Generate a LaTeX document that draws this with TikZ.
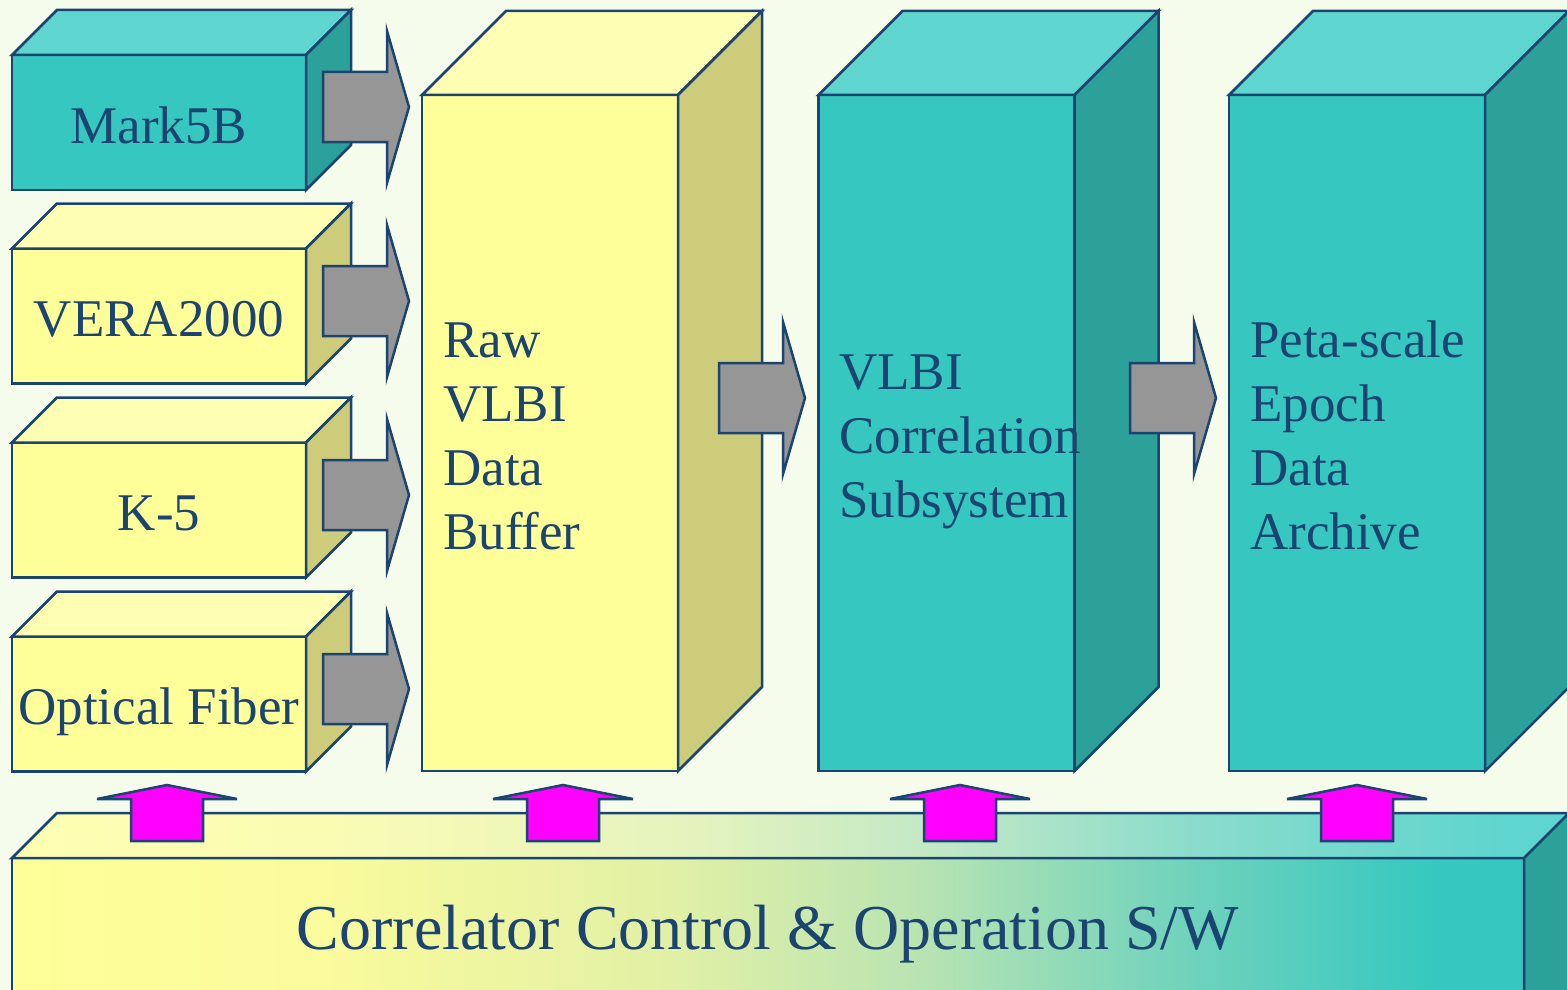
\documentclass[tikz,border=0pt]{standalone}
\usepackage{fontspec}
\setmainfont{Liberation Serif}

% palette
\definecolor{lineblue}{RGB}{27,68,112}
\definecolor{yfront}{RGB}{255,255,153}
\definecolor{ytop}{RGB}{255,255,180}
\definecolor{yside}{RGB}{204,204,122}
\definecolor{tfront}{RGB}{54,200,192}
\definecolor{ttop}{RGB}{94,213,206}
\definecolor{tside}{RGB}{43,161,154}
\definecolor{flowgray}{RGB}{150,150,150}
\definecolor{ctrlpink}{RGB}{255,0,255}
\definecolor{bgL}{RGB}{245,252,236}
\definecolor{bgM}{RGB}{253,255,248}
\definecolor{bgR}{RGB}{246,252,236}
% control bar gradient stops
\definecolor{cf1}{RGB}{250,251,156}
\definecolor{cf2}{RGB}{225,240,166}
\definecolor{cf3}{RGB}{185,228,178}
\definecolor{cf4}{RGB}{118,212,188}
\definecolor{ct0}{RGB}{255,255,178}
\definecolor{ct1}{RGB}{250,252,180}
\definecolor{ct2}{RGB}{228,243,190}
\definecolor{ct3}{RGB}{192,232,198}
\definecolor{ct4}{RGB}{138,220,204}

\pgfdeclarehorizontalshading{ctrlfront}{100bp}{color(0bp)=(yfront); color(25bp)=(yfront); color(35bp)=(cf1); color(47bp)=(cf2); color(55bp)=(cf3); color(63bp)=(cf4); color(72bp)=(tfront); color(75bp)=(tfront); color(100bp)=(tfront)}
\pgfdeclarehorizontalshading{ctrltop}{100bp}{color(0bp)=(ct0); color(25bp)=(ct0); color(35bp)=(ct1); color(47bp)=(ct2); color(55bp)=(ct3); color(63bp)=(ct4); color(73bp)=(ttop); color(75bp)=(ttop); color(100bp)=(ttop)}

% top and right faces of a box whose front face is node #1
\newcommand\drawfaces[4]{%
  \filldraw[outline, fill=#3] (#1.north west) -- ++(#2,-#2) -- ([shift={(#2,-#2)}]#1.north east) -- (#1.north east) -- cycle;
  \filldraw[outline, fill=#4] (#1.north east) -- ++(#2,-#2) -- ([shift={(#2,-#2)}]#1.south east) -- (#1.south east) -- cycle;
}

\tikzset{
  outline/.style={draw=lineblue, line width=2.5pt},
  frontbox/.style={outline, rectangle, inner sep=0pt, outer sep=0pt},
  smallbox/.style={frontbox, minimum width=294pt, minimum height=135pt,
    text height=41pt, text depth=0pt, text=lineblue, font=\fontsize{53}{64}\selectfont},
  bigbox/.style={frontbox, minimum width=256pt, minimum height=676pt},
  coltext/.style={anchor=base west, inner sep=0pt, text=lineblue, font=\fontsize{53}{64}\selectfont},
  rarrow/.pic={\filldraw[outline, fill=flowgray] (0,-35) -- (64,-35) -- (64,-76) -- (86,0) -- (64,76) -- (64,35) -- (0,35) -- cycle;},
  uarrow/.pic={\filldraw[outline, fill=ctrlpink] (0,0) -- (70,14) -- (36,14) -- (36,56) -- (-36,56) -- (-36,14) -- (-70,14) -- cycle;}
}

\begin{document}
\begin{tikzpicture}[x=1pt,y=-1pt]
\fill[left color=bgL, middle color=bgM, right color=bgR] (0,0) rectangle (1567,990);
\useasboundingbox (0,0) rectangle (1567,990);
\clip (0,0) rectangle (1567,990);

% recorder inputs
\node[smallbox, fill=tfront] (mark)  at (159,122.5) {Mark5B};
\drawfaces{mark}{45}{ttop}{tside}
\node[smallbox, fill=yfront] (vera)  at (159,316) {VERA2000};
\drawfaces{vera}{45}{ytop}{yside}
\node[smallbox, fill=yfront] (k5)    at (159,510) {K-5};
\drawfaces{k5}{45}{ytop}{yside}
\node[smallbox, fill=yfront] (fiber) at (159,704) {Optical Fiber};
\drawfaces{fiber}{45}{ytop}{yside}

% main columns
\node[bigbox, fill=yfront] (raw)  at (550,433) {};
\drawfaces{raw}{84}{ytop}{yside}
\node[bigbox, fill=tfront] (corr) at (946.5,433) {};
\drawfaces{corr}{84}{ttop}{tside}
\node[bigbox, fill=tfront] (arch) at (1357,433) {};
\drawfaces{arch}{84}{ttop}{tside}

\foreach \t [count=\i from 0] in {Raw,VLBI,Data,Buffer}
  \node[coltext] (raw-\i) at (443,357+64*\i) {\t};
\foreach \t [count=\i from 0] in {VLBI,Correlation,Subsystem}
  \node[coltext] (corr-\i) at (839,389+64*\i) {\t};
\foreach \t [count=\i from 0] in {Peta-scale,Epoch,Data,Archive}
  \node[coltext] (arch-\i) at (1250,357+64*\i) {\t};

% data flow
\pic at (323,107) {rarrow};
\pic at (323,301) {rarrow};
\pic at (323,495) {rarrow};
\pic at (323,689) {rarrow};
\pic at (719,398) {rarrow};
\pic at (1130,398) {rarrow};

% control software bar
\node[frontbox, shade, shading=ctrlfront, minimum width=1512pt, minimum height=182pt] (ctrl) at (768,949) {};
\path[outline, shade, shading=ctrltop] (ctrl.north west) -- ++(45,-45) -- ([shift={(45,-45)}]ctrl.north east) -- (ctrl.north east) -- cycle;
\filldraw[outline, fill=tside] (ctrl.north east) -- ++(45,-45) -- ([shift={(45,-45)}]ctrl.south east) -- (ctrl.south east) -- cycle;
\node[anchor=base, inner sep=0pt, text=lineblue, font=\fontsize{64}{76}\selectfont] (ctrl-text) at (768,949) {Correlator Control \& Operation S/W};

% control links
\pic at (167,785) {uarrow};
\pic at (563,785) {uarrow};
\pic at (960,785) {uarrow};
\pic at (1357,785) {uarrow};
\end{tikzpicture}
\end{document}
